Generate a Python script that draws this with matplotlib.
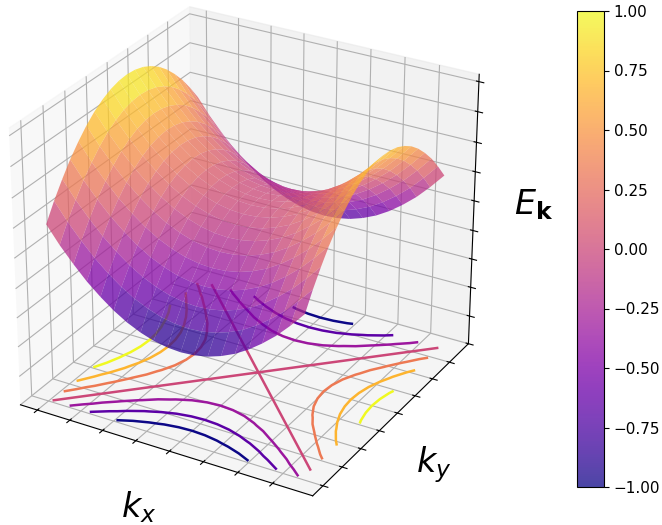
import numpy as np
import matplotlib
matplotlib.use("Agg")
import matplotlib.pyplot as plt

# one quadrant of the band, kx and ky go from the edge to the centre
kx_half = [-3.14, -2.83, -2.51, -2.2, -1.88, -1.57, -1.26, -0.94, -0.63, -0.31, 0.0]
ky_half = [-3.14, -2.83, -2.51, -2.2, -1.88, -1.57, -1.26, -0.94, -0.63, -0.31, 0.0]
E_quadrant = [
    [0.00, -0.19, -0.36, -0.51, -0.64, -0.75, -0.84, -0.91, -0.96, -0.99, -1.00],
    [0.19, 0.00, -0.17, -0.32, -0.45, -0.56, -0.65, -0.72, -0.77, -0.80, -0.81],
    [0.36, 0.17, 0.00, -0.15, -0.28, -0.39, -0.48, -0.55, -0.60, -0.63, -0.64],
    [0.51, 0.32, 0.15, 0.00, -0.13, -0.24, -0.33, -0.40, -0.45, -0.48, -0.49],
    [0.64, 0.45, 0.28, 0.13, 0.00, -0.11, -0.20, -0.27, -0.32, -0.35, -0.36],
    [0.75, 0.56, 0.39, 0.24, 0.11, 0.00, -0.09, -0.16, -0.21, -0.24, -0.25],
    [0.84, 0.65, 0.48, 0.33, 0.20, 0.09, 0.00, -0.07, -0.12, -0.15, -0.16],
    [0.91, 0.72, 0.55, 0.40, 0.27, 0.16, 0.07, 0.00, -0.05, -0.08, -0.09],
    [0.96, 0.77, 0.60, 0.45, 0.32, 0.21, 0.12, 0.05, 0.00, -0.03, -0.04],
    [0.99, 0.80, 0.63, 0.48, 0.35, 0.24, 0.15, 0.08, 0.03, 0.00, -0.01],
    [1.00, 0.81, 0.64, 0.49, 0.36, 0.25, 0.16, 0.09, 0.04, 0.01, 0.00],
]
contour_levels = [-0.75, -0.5, -0.25, 0.0, 0.25, 0.5, 0.75]
x_ticks = [-3.2, -2.4, -1.6, -0.8, 0.0, 0.8, 1.6, 2.4]
y_ticks = [-3.2, -2.4, -1.6, -0.8, 0.0, 0.8, 1.6, 2.4]
z_ticks = [-2.0, -1.67, -1.33, -1.0, -0.67, -0.33, 0.0, 0.33, 0.67, 1.0]
cbar_ticks = [-1.0, -0.75, -0.5, -0.25, 0.0, 0.25, 0.5, 0.75, 1.0]

# mirror the quadrant, the far edge of the grid stops one step before +3.14
kx = np.array(kx_half + [-v for v in kx_half[-2:0:-1]])
ky = np.array(ky_half + [-v for v in ky_half[-2:0:-1]])
E = np.array(E_quadrant)
E = np.hstack([E, E[:, -2:0:-1]])
E = np.vstack([E, E[-2:0:-1, :]])
X, Y = np.meshgrid(kx, ky)

fig = plt.figure(figsize=(6.62, 5.25), dpi=100)
ax = fig.add_axes([-34 / 662, 2 / 525, 550 / 662, 550 / 525], projection="3d")
ax.view_init(elev=28, azim=-60)
ax.set_box_aspect((4, 4, 3.68))

ax.contour(X, Y, E, levels=contour_levels, zdir="z", offset=-2.0, cmap="plasma", linewidths=1.8)
surf = ax.plot_surface(X, Y, E, cmap="plasma", vmin=-1, vmax=1, alpha=0.75)

ax.set_xlim(-3.62, 3.31)
ax.set_ylim(-3.62, 3.31)
ax.set_zlim(-2.0, 1.08)
ax.set_xticks(x_ticks)
ax.set_yticks(y_ticks)
ax.set_zticks(z_ticks)
ax.set_xticklabels([])
ax.set_yticklabels([])
ax.set_zticklabels([])

for a in [ax.xaxis, ax.yaxis, ax.zaxis]:
    a.set_rotate_label(False)
ax.set_xlabel(r"$k_x$", fontsize=24, rotation=0, labelpad=7)
ax.set_ylabel(r"$k_y$", fontsize=24, rotation=0, labelpad=7)
ax.set_zlabel(r"$E_{\mathbf{k}}$", fontsize=24, rotation=0, labelpad=7)

cax = fig.add_axes([577 / 662, 1 - 487 / 525, 27 / 662, 476 / 525])
cbar = fig.colorbar(surf, cax=cax, ticks=cbar_ticks)
cbar.solids.set_antialiased(True)  # seams between the rows give the stripes
cbar.ax.tick_params(labelsize=11)
cbar.ax.set_yticklabels(["%.2f" % t if t >= 0 else "\u2212%.2f" % -t for t in cbar_ticks])

fig.savefig("out.png", dpi=100)
